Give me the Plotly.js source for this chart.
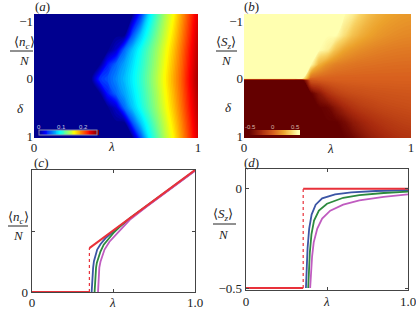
<!DOCTYPE html>
<html><head><meta charset="utf-8">
<script src="https://cdn.plot.ly/plotly-3.0.1.min.js"></script>
<style>html,body{margin:0;padding:0;background:#fff}#g{width:416px;height:310px}</style>
</head><body><div id="g"></div>
<script>
// ---- map grid (lambda columns) ----
const lam = [0,0.3,0.35,0.4,0.45,0.5,0.55,0.6,0.65,0.7,0.75,0.8,0.85,0.9,0.95,1.0];
// panel (a): <n_c>/N rows, delta from top edge to bottom edge
const deltaA = [-1.12,-0.75,-0.5,-0.25,0,0.25,0.5,0.75,1.02];
const nc_m112 = [0,0,0,0,0,0,0,0,0.04,0.085,0.112,0.137,0.158,0.183,0.208,0.233];
const nc_m075 = [0,0,0,0,0,0,0,0.05,0.08,0.103,0.125,0.146,0.167,0.19,0.214,0.24];
const nc_m050 = [0,0,0,0,0,0.015,0.055,0.078,0.097,0.115,0.133,0.153,0.173,0.195,0.219,0.244];
const nc_m025 = [0,0,0,0,0.035,0.055,0.07,0.086,0.102,0.119,0.137,0.157,0.177,0.198,0.222,0.247];
const nc_000  = [0,0,0,0.04,0.05,0.063,0.076,0.09,0.105,0.122,0.14,0.16,0.18,0.2,0.225,0.25];
const nc_p025 = [0,0,0,0,0.035,0.055,0.07,0.086,0.102,0.119,0.137,0.157,0.177,0.198,0.222,0.247];
const nc_p050 = [0,0,0,0,0,0.015,0.055,0.078,0.097,0.115,0.133,0.153,0.173,0.195,0.219,0.244];
const nc_p075 = [0,0,0,0,0,0,0,0.05,0.08,0.103,0.125,0.146,0.167,0.19,0.214,0.24];
const nc_p102 = [0,0,0,0,0,0,0,0,0.048,0.09,0.115,0.14,0.16,0.185,0.21,0.235];
// panel (b): <S_z>/N rows
const deltaB = [-1.12,-0.75,-0.5,-0.25,-0.012,0.012,0.25,0.5,0.75,1.02];
const sz_m112 = [0.5,0.5,0.5,0.5,0.5,0.5,0.5,0.5,0.45,0.36,0.29,0.245,0.215,0.195,0.18,0.17];
const sz_m075 = [0.5,0.5,0.5,0.5,0.5,0.5,0.5,0.4,0.3,0.24,0.2,0.17,0.15,0.135,0.125,0.12];
const sz_m050 = [0.5,0.5,0.5,0.5,0.5,0.45,0.3,0.21,0.165,0.135,0.115,0.1,0.09,0.083,0.078,0.075];
const sz_m025 = [0.5,0.5,0.5,0.5,0.25,0.15,0.1,0.08,0.065,0.055,0.05,0.045,0.041,0.038,0.036,0.035];
const sz_m000 = [0.5,0.5,0.5,0.02,0.01,0.005,0,0,0,0,0,0,0,0,0,0];
const sz_p000 = [-0.5,-0.5,-0.5,-0.02,-0.01,-0.005,0,0,0,0,0,0,0,0,0,0];
const sz_p025 = [-0.5,-0.5,-0.5,-0.5,-0.35,-0.22,-0.15,-0.11,-0.09,-0.078,-0.068,-0.06,-0.055,-0.05,-0.047,-0.045];
const sz_p050 = [-0.5,-0.5,-0.5,-0.5,-0.5,-0.47,-0.36,-0.27,-0.21,-0.17,-0.145,-0.125,-0.11,-0.1,-0.092,-0.085];
const sz_p075 = [-0.5,-0.5,-0.5,-0.5,-0.5,-0.5,-0.5,-0.44,-0.35,-0.29,-0.245,-0.21,-0.185,-0.165,-0.15,-0.14];
const sz_p102 = [-0.5,-0.5,-0.5,-0.5,-0.5,-0.5,-0.5,-0.5,-0.46,-0.39,-0.33,-0.29,-0.255,-0.23,-0.21,-0.2];

// colorbar tick labels
const cbA_vals = [0,0.1,0.2];
const cbA_text = ['0','0.1','0.2'];
const cbB_vals = [-0.5,0,0.5];
const cbB_text = ['-0.5','0','0.5'];

// panel (c): <n_c>/N curves
const cRedLam = [0,0.352,null,0.352,1.0];
const cRedVal = [0,0,null,0.09,0.25];
const cJumpLam = [0.352,0.352];
const cJumpVal = [0,0.09];
const cBlueLam = [0.366,0.37,0.375,0.38,0.39,0.4,0.42,0.45,0.5,0.55,0.6,1.0];
const cBlueVal = [0,0.03,0.05,0.063,0.078,0.087,0.098,0.11,0.125,0.138,0.15,0.249];
const cGreenLam = [0.384,0.388,0.393,0.398,0.408,0.42,0.44,0.47,0.5,0.55,0.6,1.0];
const cGreenVal = [0,0.035,0.05,0.06,0.073,0.083,0.097,0.11,0.121,0.137,0.151,0.249];
const cPurpleLam = [0.405,0.408,0.413,0.42,0.43,0.445,0.475,0.5,0.55,0.6,0.7,1.0];
const cPurpleVal = [0,0.035,0.05,0.062,0.074,0.087,0.103,0.112,0.132,0.148,0.174,0.248];

// panel (d): <S_z>/N curves
const dRedLam = [0,0.353,null,0.353,1.0];
const dRedVal = [-0.5,-0.5,null,0,0];
const dJumpLam = [0.353,0.353];
const dJumpVal = [-0.5,0];
const dBlueLam = [0.37,0.375,0.38,0.39,0.405,0.43,0.47,0.55,0.65,0.8,1.0];
const dBlueVal = [-0.5,-0.4,-0.3,-0.2,-0.13,-0.08,-0.048,-0.028,-0.018,-0.011,-0.006];
const dGreenLam = [0.384,0.389,0.394,0.404,0.42,0.45,0.5,0.6,0.7,0.85,1.0];
const dGreenVal = [-0.5,-0.4,-0.32,-0.23,-0.16,-0.11,-0.075,-0.045,-0.032,-0.021,-0.014];
const dPurpleLam = [0.396,0.401,0.408,0.418,0.44,0.47,0.52,0.6,0.7,0.85,1.0];
const dPurpleVal = [-0.5,-0.42,-0.34,-0.27,-0.2,-0.15,-0.11,-0.08,-0.058,-0.04,-0.028];

const jet = [[0,'#00008f'],[0.11,'#0000ff'],[0.36,'#00ffff'],[0.61,'#ffff00'],[0.86,'#ff0000'],[1,'#800000']];
const solar = [[0,'#640000'],[0.25,'#a82a0e'],[0.5,'#d8601e'],[0.7,'#eca22c'],[0.85,'#f8d060'],[1,'#ffffb0']];

const RED='#e8313a', BLUE='#3b55a5', GREEN='#2d8a3e', PURPLE='#c05cc0';
const W=416, H=310;
const px = v => v/W, py = v => 1 - v/H;

const traces = [
 {type:'contour', x:lam, y:deltaA, z:[nc_m112,nc_m075,nc_m050,nc_m025,nc_000,nc_p025,nc_p050,nc_p075,nc_p102],
  colorscale:jet, zmin:0, zmax:0.26, zauto:false, autocontour:false,
  contours:{coloring:'fill', showlines:false, start:0.002, end:0.258, size:0.004}, line:{width:0},
  xaxis:'x', yaxis:'y',
  colorbar:{orientation:'h', x:px(67.5), xanchor:'center', y:py(130.5), yanchor:'top', len:58, lenmode:'pixels',
    thickness:5, xpad:0, ypad:0, outlinewidth:1, outlinecolor:'#8a8ab0', ticks:'', showticklabels:false}},
 {type:'contour', x:lam, y:deltaB, z:[sz_m112,sz_m075,sz_m050,sz_m025,sz_m000,sz_p000,sz_p025,sz_p050,sz_p075,sz_p102],
  colorscale:solar, zmin:-0.5, zmax:0.5, zauto:false, autocontour:false,
  contours:{coloring:'fill', showlines:false, start:-0.495, end:0.495, size:0.01}, line:{width:0},
  xaxis:'x2', yaxis:'y2',
  colorbar:{orientation:'h', x:px(273.5), xanchor:'center', y:py(130), yanchor:'top', len:49, lenmode:'pixels',
    thickness:5, xpad:0, ypad:0, outlinewidth:0, ticks:'', showticklabels:false}},
 {type:'scatter', mode:'lines', x:cBlueLam, y:cBlueVal, line:{color:BLUE,width:1.8}, xaxis:'x3', yaxis:'y3'},
 {type:'scatter', mode:'lines', x:cGreenLam, y:cGreenVal, line:{color:GREEN,width:1.8}, xaxis:'x3', yaxis:'y3'},
 {type:'scatter', mode:'lines', x:cPurpleLam, y:cPurpleVal, line:{color:PURPLE,width:1.8}, xaxis:'x3', yaxis:'y3'},
 {type:'scatter', mode:'lines', x:cJumpLam, y:cJumpVal, line:{color:RED,width:1.2,dash:'dot'}, xaxis:'x3', yaxis:'y3'},
 {type:'scatter', mode:'lines', x:cRedLam, y:cRedVal, line:{color:RED,width:2}, xaxis:'x3', yaxis:'y3'},
 {type:'scatter', mode:'lines', x:dBlueLam, y:dBlueVal, line:{color:BLUE,width:1.8}, xaxis:'x4', yaxis:'y4'},
 {type:'scatter', mode:'lines', x:dGreenLam, y:dGreenVal, line:{color:GREEN,width:1.8}, xaxis:'x4', yaxis:'y4'},
 {type:'scatter', mode:'lines', x:dPurpleLam, y:dPurpleVal, line:{color:PURPLE,width:1.8}, xaxis:'x4', yaxis:'y4'},
 {type:'scatter', mode:'lines', x:dJumpLam, y:dJumpVal, line:{color:RED,width:1.2,dash:'dot'}, xaxis:'x4', yaxis:'y4'},
 {type:'scatter', mode:'lines', x:dRedLam, y:dRedVal, line:{color:RED,width:2}, xaxis:'x4', yaxis:'y4'}
];

const tf = {family:'Liberation Serif', size:13, color:'#222'};
const hmX = {range:[0,1], tickvals:[0,1], ticktext:['0','1'], ticks:'', showgrid:false, zeroline:false, showline:false, tickfont:tf, ticklabeloverflow:'allow'};
const hmY = {range:[1.02,-1.12], tickvals:[-1,0,1], ticks:'', showgrid:false, zeroline:false, showline:false, tickfont:tf, ticklabeloverflow:'allow'};
const frame = {showgrid:false, zeroline:false, showline:true, mirror:'ticks', linecolor:'#444', linewidth:1.3,
  ticks:'inside', ticklen:3, tickcolor:'#444', tickfont:tf, ticklabeloverflow:'allow'};
const minorX = {ticks:'inside', tick0:0, dtick:0.5, ticklen:3, tickcolor:'#444'};

const ann = [];
function A(text,x,y,size,color){ ann.push({text:text, x:px(x), y:py(y), xref:'paper', yref:'paper', showarrow:false,
  xanchor:'center', yanchor:'middle', font:{family:'Liberation Serif', size:size||13, color:color||'#222'}}); }
A('(<i>a</i>)',42,6); A('(<i>b</i>)',252,6); A('(<i>c</i>)',41,162); A('(<i>d</i>)',251,162);
A('⟨<i>n</i><sub><i>c</i></sub>⟩',24,43); A('<i>N</i>',24,60); A('<i>δ</i>',20,108);
A('⟨<i>S</i><sub><i>z</i></sub>⟩',226,43); A('<i>N</i>',227,60); A('<i>δ</i>',228,107);
A('⟨<i>n</i><sub><i>c</i></sub>⟩',18,217); A('<i>N</i>',18,236);
A('⟨<i>S</i><sub><i>z</i></sub>⟩',223,214); A('<i>N</i>',223,234);
A('<i>λ</i>',111,147); A('<i>λ</i>',330,148); A('<i>λ</i>',113,302); A('<i>λ</i>',326,301);
// colorbar tick labels placed above the bars
cbA_vals.forEach((v,i)=>{ ann.push({text:cbA_text[i], x:px(39 + v/0.26*58), y:py(126.5), xref:'paper', yref:'paper',
  showarrow:false, xanchor:'center', yanchor:'middle', font:{family:'Liberation Sans', size:6, color:'#c8c8e0'}}); });
cbB_vals.forEach((v,i)=>{ ann.push({text:cbB_text[i], x:px(250 + (v+0.5)*45), y:py(126.5), xref:'paper', yref:'paper',
  showarrow:false, xanchor:'center', yanchor:'middle', font:{family:'Liberation Sans', size:6, color:'#d8b8a8'}}); });

function L(x0,x1,y){ return {type:'line', xref:'paper', yref:'paper', x0:px(x0), x1:px(x1), y0:py(y), y1:py(y), line:{color:'#222',width:1}}; }

const layout = {
  width:W, height:H, margin:{l:0,r:0,t:0,b:0}, paper_bgcolor:'#fff', plot_bgcolor:'#fff', showlegend:false,
  xaxis: Object.assign({domain:[px(34),px(198)], anchor:'y'}, hmX),
  yaxis: Object.assign({domain:[py(138),py(14)], anchor:'x'}, hmY),
  xaxis2: Object.assign({domain:[px(244),px(411)], anchor:'y2'}, hmX),
  yaxis2: Object.assign({domain:[py(138),py(14)], anchor:'x2'}, hmY),
  xaxis3: Object.assign({domain:[px(32),px(195)], anchor:'y3', range:[0,1], tickvals:[0,1], ticktext:['0','1.0'], ticklabelstandoff:-2, minor:minorX}, frame),
  yaxis3: Object.assign({domain:[py(292),py(170)], anchor:'x3', range:[0,0.25], tickvals:[0], ticktext:['0'], minor:{ticks:'inside', tick0:0, dtick:0.125, ticklen:3, tickcolor:'#444'}}, frame),
  xaxis4: Object.assign({domain:[px(246),px(408)], anchor:'y4', range:[0,1], tickvals:[0,1], ticktext:['0','1.0'], ticklabelstandoff:-1, minor:minorX}, frame),
  yaxis4: Object.assign({domain:[py(290),py(169)], anchor:'x4', range:[-0.51,0.1], tickvals:[-0.5,0], ticktext:['−0.5','0']}, frame),
  annotations: ann,
  shapes: [L(10,33,51), L(216,237,51), L(8,28,226), L(213,236,224)]
};
Plotly.newPlot('g', traces, layout, {staticPlot:true, displayModeBar:false});
</script></body></html>
